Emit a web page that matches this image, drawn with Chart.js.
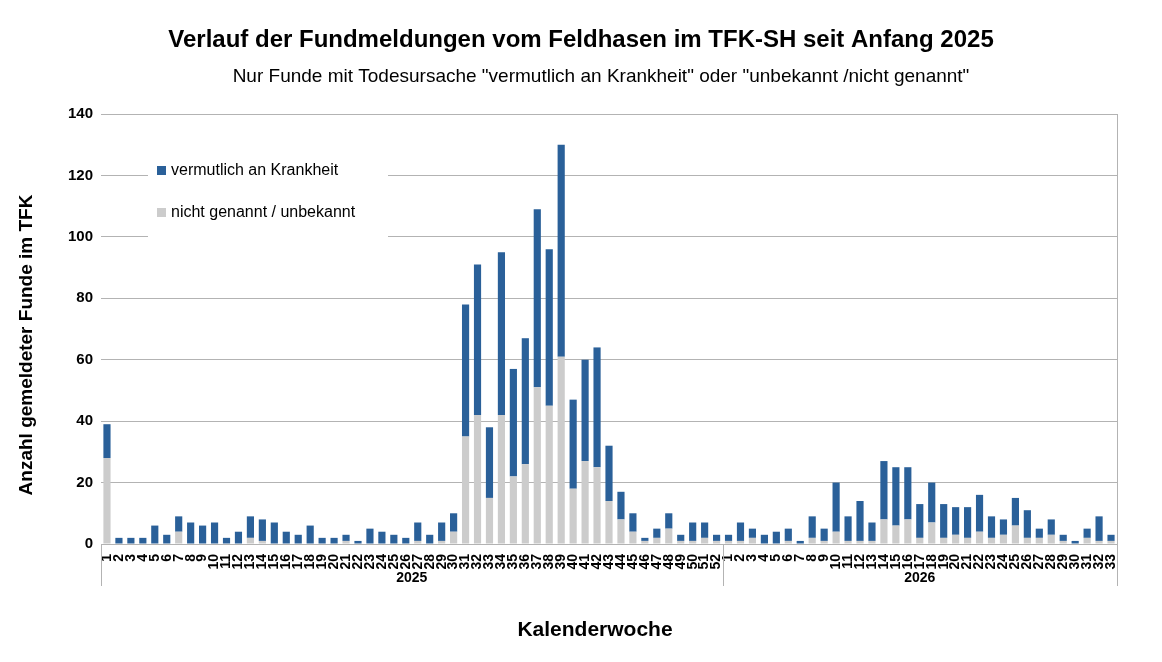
<!DOCTYPE html>
<html><head><meta charset="utf-8">
<script src="https://cdn.jsdelivr.net/npm/chart.js@4"></script>
<style>html,body{margin:0;padding:0;background:#fff}#w{width:1162px;height:662px}</style>
</head><body><div id="w"><canvas id="c"></canvas></div>
<script>
const weeks2025 = Array.from({length:52},(_, i)=>String(i+1));
const weeks2026 = Array.from({length:33},(_, i)=>String(i+1));
const total2025 = [39,2,2,2,6,3,9,7,6,7,2,4,9,8,7,4,3,6,2,2,3,1,5,4,3,2,7,3,7,10,78,91,38,95,57,67,109,96,130,47,60,64,32,17,10,2,5,10,3,7,7,3];
const grey2025  = [28,0,0,0,0,0,4,0,0,0,0,0,2,1,0,0,0,0,0,0,1,0,0,0,0,0,1,0,1,4,35,42,15,42,22,26,51,45,61,18,27,25,14,8,4,1,2,5,1,1,2,1];
const total2026 = [3,7,5,3,4,5,1,9,5,20,9,14,7,27,25,25,13,20,13,12,12,16,9,8,15,11,5,8,3,1,5,9,3];
const grey2026  = [1,1,2,0,0,1,0,2,1,4,1,1,1,8,6,8,2,7,2,3,2,4,2,3,6,2,2,3,1,0,2,1,1];
const years = ["2025","2026"];

const labels = weeks2025.concat(weeks2026);
const grey = grey2025.concat(grey2026);
const blue = total2025.concat(total2026).map((t,i)=>t-grey[i]);

const deco = {
  id:'deco',
  beforeDatasetsDraw(ch){
    const c=ch.ctx; c.save(); c.fillStyle='#fff'; c.fillRect(148,150,240,89); c.restore();
  },
  afterDraw(ch){
    const c=ch.ctx, x=ch.scales.x, a=ch.chartArea;
    c.save();
    c.fillStyle='#000'; c.textAlign='center'; c.textBaseline='middle';
    c.font='bold 24px "Liberation Sans", Arial, sans-serif';
    c.fillText('Verlauf der Fundmeldungen vom Feldhasen im TFK-SH seit Anfang 2025',581,40);
    c.font='19px "Liberation Sans", Arial, sans-serif';
    c.fillText('Nur Funde mit Todesursache "vermutlich an Krankheit" oder "unbekannt /nicht genannt"',601,77);
    c.font='bold 21px "Liberation Sans", Arial, sans-serif';
    c.fillText('Kalenderwoche',595,630);
    c.save(); c.translate(27,345); c.rotate(-Math.PI/2);
    c.font='bold 19px "Liberation Sans", Arial, sans-serif';
    c.fillText('Anzahl gemeldeter Funde im TFK',0,0); c.restore();
    const step = x.getPixelForValue(1)-x.getPixelForValue(0);
    const sep = x.getPixelForValue(weeks2025.length-1)+step/2;
    c.strokeStyle='#b3b3b3'; c.lineWidth=1;
    [a.left, sep, a.right].forEach(px=>{c.beginPath();c.moveTo(Math.round(px)+0.5,a.bottom);c.lineTo(Math.round(px)+0.5,586);c.stroke();});
    c.font='bold 14px "Liberation Sans", Arial, sans-serif';
    c.fillText(years[0],(a.left+sep)/2,578);
    c.fillText(years[1],(sep+a.right)/2,578);
    c.textAlign='left';
    c.font='16px "Liberation Sans", Arial, sans-serif';
    c.fillStyle='#2a6099'; c.fillRect(157,166,9,9);
    c.fillStyle='#cccccc'; c.fillRect(157,208,9,9);
    c.fillStyle='#000';
    c.fillText('vermutlich an Krankheit',171,171);
    c.fillText('nicht genannt / unbekannt',171,213);
    c.restore();
  }
};

new Chart(document.getElementById('c'),{
  type:'bar',
  data:{labels,datasets:[
    {label:'nicht genannt / unbekannt',data:grey,backgroundColor:'#cccccc',stack:'s'},
    {label:'vermutlich an Krankheit',data:blue,backgroundColor:'#2a6099',stack:'s'}
  ]},
  options:{
    responsive:true,maintainAspectRatio:false,animation:false,
    layout:{padding:{top:114,right:45,bottom:0,left:0}},
    plugins:{legend:{display:false},title:{display:false},tooltip:{enabled:false}},
    datasets:{bar:{barPercentage:0.6,categoryPercentage:1}},
    scales:{
      x:{stacked:true,
        grid:{display:false},border:{color:'#b3b3b3'},
        ticks:{autoSkip:false,minRotation:90,maxRotation:90,color:'#000',padding:2,
          font:{family:'"Liberation Sans", Arial, sans-serif',size:14,weight:'bold'}},
        afterFit(s){s.height=118;}},
      y:{stacked:true,min:0,max:140,
        grid:{color:'#b3b3b3',drawTicks:false},border:{display:false},
        ticks:{stepSize:20,color:'#000',padding:8,
          font:{family:'"Liberation Sans", Arial, sans-serif',size:15,weight:'bold'}},
        afterFit(s){s.width=101;}}
    }
  },
  plugins:[deco,{id:'rb',afterDraw(ch){const c=ch.ctx,a=ch.chartArea;c.save();c.strokeStyle='#b3b3b3';c.beginPath();c.moveTo(Math.round(a.right)+0.5,a.top);c.lineTo(Math.round(a.right)+0.5,a.bottom);c.stroke();c.restore();}}]
});
</script></body></html>
